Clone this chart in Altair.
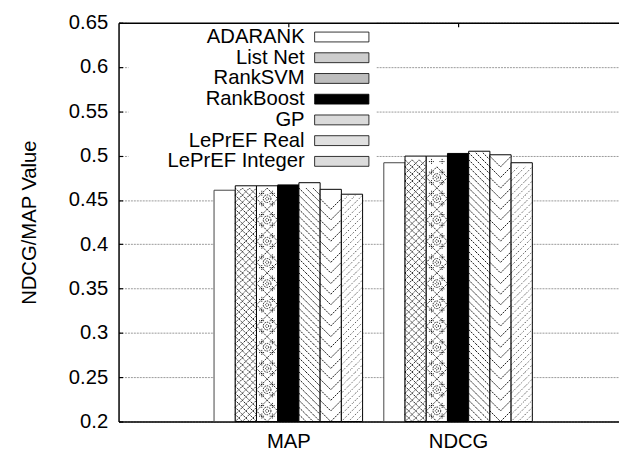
import altair as alt
import pandas as pd

# ---- data ----
metrics = ["MAP", "NDCG"]
series = ["ADARANK", "List Net", "RankSVM", "RankBoost", "GP", "LePrEF Real", "LePrEF Integer"]
map_values = [0.461, 0.466, 0.466, 0.467, 0.4695, 0.462, 0.4565]
ndcg_values = [0.492, 0.4995, 0.4995, 0.5025, 0.505, 0.501, 0.492]
y_ticks = [0.2, 0.25, 0.3, 0.35, 0.4, 0.45, 0.5, 0.55, 0.6, 0.65]

rows = []
for gi, (m, vals) in enumerate(zip(metrics, [map_values, ndcg_values])):
    for si, (s, v) in enumerate(zip(series, vals)):
        rows.append({"metric": m, "gi": gi, "series": s, "si": si, "value": v})
df = pd.DataFrame(rows)

FONT = "Liberation Sans"
FS = 20.5
W, H = 507, 404
XDOM = [-1, 1.948]
YDOM = [0.2, 0.65]
BW = 0.125  # bar width in x units
XPX = W / (XDOM[1] - XDOM[0])
YPX = H / (YDOM[1] - YDOM[0])

xs = alt.Scale(domain=XDOM, nice=False, zero=False)
ys = alt.Scale(domain=YDOM, nice=False, zero=False)

base = alt.Chart(df).transform_calculate(
    x0=f"datum.gi + (datum.si - 3.5) * {BW}",
    x1=f"datum.gi + (datum.si - 2.5) * {BW}",
)

label_expr = "[" + ",".join(f"'{m}'" for m in metrics) + "][datum.value]"

bars = base.mark_rect(strokeWidth=1).encode(
    x=alt.X("x0:Q", scale=xs, axis=alt.Axis(
        values=list(range(len(metrics))), labelExpr=label_expr, title=None,
        grid=False, ticks=False, labelPadding=10, labelFontSize=FS, labelFont=FONT,
        labelColor="black", domainColor="black", domainWidth=1.5)),
    x2="x1:Q",
    y=alt.Y("value:Q", scale=ys, axis=alt.Axis(
        values=y_ticks, format="~g", title="NDCG/MAP Value", ticks=False,
        labelPadding=11, labelFontSize=FS, labelFont=FONT, labelColor="black",
        titleFont=FONT, titleFontSize=FS, titleFontWeight="normal", titleColor="black",
        titleAngle=-90, titleX=-90, titleY=H / 2, titleAlign="center", titleBaseline="middle",
        grid=True, gridColor="#999999", gridDash=[2, 1], gridWidth=1,
        domainColor="black", domainWidth=1.5)),
    y2=alt.datum(0.2),
    fill=alt.condition(alt.datum.series == "RankBoost", alt.value("black"), alt.value("white")),
    stroke=alt.condition(alt.datum.series == "ADARANK", alt.value("#444444"), alt.value("black")),
    strokeDash=alt.condition(
        (alt.datum.series == "ADARANK") | (alt.datum.series == "RankBoost"),
        alt.value([1, 0]), alt.value([2, 1.5])),
)


def texture(name, ncol, shape, dash, cols=None, size=None, width=0.9, xaxis=None, yaxis=None):
    cw = BW / ncol                   # cell width in x units
    cpx = cw * XPX                   # cell width in pixels
    h = cpx / YPX                    # square cell height in y units
    colarr = "[" + ",".join(str(c) for c in (cols if cols is not None else range(ncol))) + "]"
    sz = size if size is not None else cpx * cpx
    return base.transform_filter(alt.datum.series == name).transform_calculate(
        col=colarr,
        row=f"sequence(0.2 + {h / 2}, datum.value - {h / 2} + 1e-6, {h})",
    ).transform_flatten(["col"]).transform_flatten(["row"]).transform_calculate(
        cx=f"datum.x0 + (datum.col + 0.5) * {cw}"
    ).mark_point(shape=shape, size=sz, filled=False, opacity=1, stroke="black",
                 strokeWidth=width, strokeDash=dash).encode(
        x=alt.X("cx:Q", scale=xs, axis=xaxis),
        y=alt.Y("row:Q", scale=ys, axis=yaxis),
    )


X_SHAPE = "M-1,-1L1,1M-1,1L1,-1"
BACK = "M-1,-1L1,1"
FWD = "M-1,1L1,-1"
DIAMOND = "M0,-1L1,0L0,1L-1,0Z"

# gnuplot-style inward ticks (left border and mirrored top border)
in_ticks_y = alt.Axis(orient="left", offset=-4, values=y_ticks, domain=False, labels=False,
                      grid=False, ticks=True, tickSize=4, tickColor="black", tickWidth=1.2,
                      title=None, zindex=1)
in_ticks_x = alt.Axis(orient="top", offset=-4, values=list(range(len(metrics))), domain=False,
                      labels=False, grid=False, ticks=True, tickSize=4, tickColor="black",
                      tickWidth=1.2, title=None, zindex=1)

textures = [
    texture("List Net", 3, X_SHAPE, [1.5, 1], xaxis=in_ticks_x, yaxis=in_ticks_y),
    texture("RankSVM", 1, DIAMOND, [1.5, 1]),
    texture("RankSVM", 1, "circle", [1.5, 1], size=60),
    texture("RankSVM", 1, "circle", [1, 1], size=10),
    texture("RankSVM", 2, "M-0.5,0L0.5,0M0,-0.5L0,0.5", [1, 1]),
    texture("GP", 3, BACK, [2, 1]),
    texture("LePrEF Real", 2, BACK, [2, 1], cols=[0]),
    texture("LePrEF Real", 2, FWD, [2, 1], cols=[1]),
    texture("LePrEF Integer", 3, FWD, [0.8, 1.6]),
]

# legend sample: a box drawn to the right of the label (path offset from its anchor)
legend_grays = ["#ffffff", "#cdcdcd", "#bdbdbd", "#000000", "#dadada", "#e0e0e0", "#dcdcdc"]
R = 7.0           # symbol unit scale = sqrt(size)/2
SW = 0.8
GAP = 13
BOXW, BOXH = 55, 10
a = (R + SW / 2 + GAP) / R
b = a + BOXW / R
c = BOXH / 2 / R
LEG_PATH = f"M{a:.3f},{-c:.3f}H{b:.3f}V{c:.3f}H{a:.3f}Z"
LEG_PAD = 5
LEG_SHIFT = 153   # moves the right-aligned labels inside the legend's white box

legend_layer = base.transform_filter("false").mark_point(
    shape=LEG_PATH, filled=True, opacity=1
).encode(
    x=alt.X("x0:Q", scale=xs, axis=alt.Axis(
        orient="top", labels=False, ticks=False, grid=False, title=None,
        domainColor="black", domainWidth=1.5, zindex=1)),
    y=alt.Y("value:Q", scale=ys, axis=None),
    fill=alt.Fill("series:N", scale=alt.Scale(domain=series, range=legend_grays),
                  legend=alt.Legend(
                      title=None, orient="none", legendX=10, legendY=-0.8,
                      symbolType=LEG_PATH, symbolSize=(2 * R) ** 2,
                      symbolStrokeColor="black", symbolStrokeWidth=SW,
                      symbolOffset=LEG_SHIFT,
                      labelAlign="right", labelOffset=0,
                      labelFont=FONT, labelFontSize=FS, labelColor="black",
                      labelLimit=0, rowPadding=0, padding=LEG_PAD, fillColor="white")),
)

chart = alt.layer(bars, *textures, legend_layer).resolve_axis(
    x="independent", y="independent"
).properties(
    width=W, height=H,
    padding={"left": 112, "top": 12, "right": 0, "bottom": 31},
    autosize=alt.AutoSizeParams(type="none"),
).configure_view(stroke=None)

chart.save("out.html", embed_options={"renderer": "svg", "actions": False})
